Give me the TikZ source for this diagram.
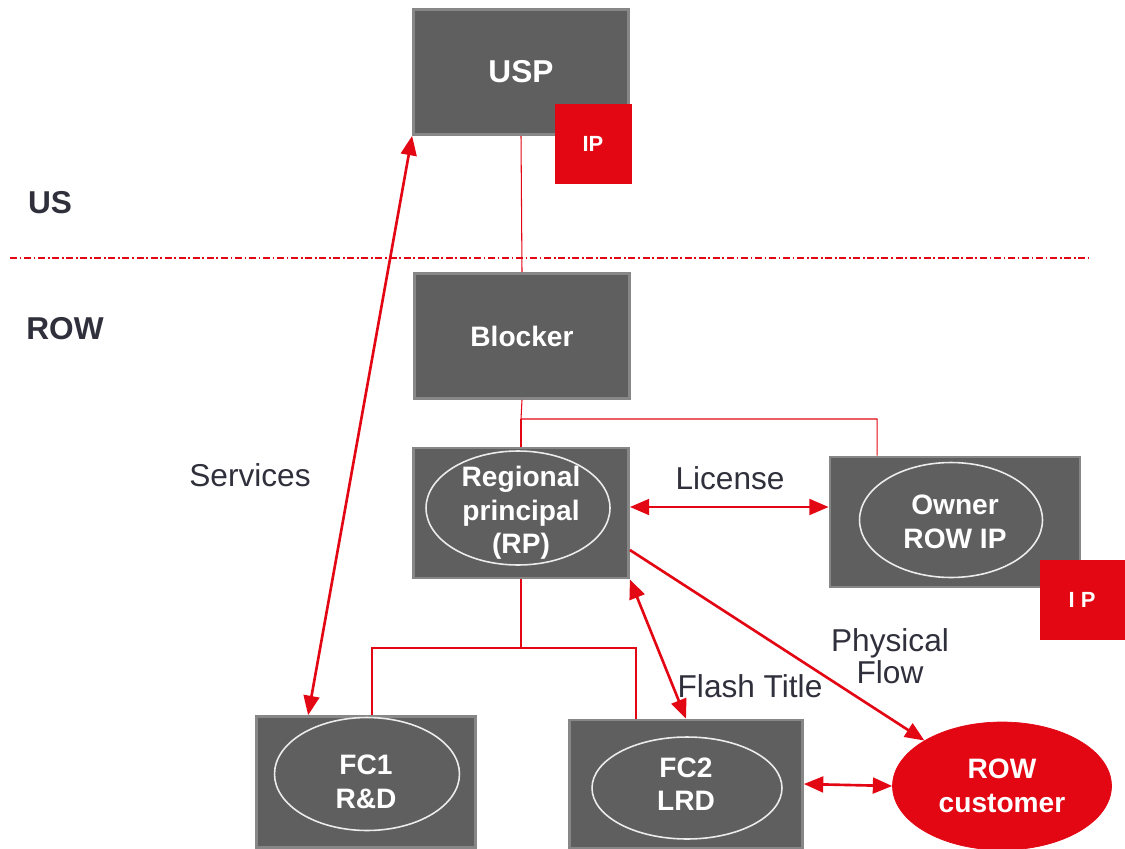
\documentclass[tikz,border=0pt]{standalone}
\usepackage{fontspec}
\setmainfont{Liberation Sans}
\usetikzlibrary{arrows.meta,shapes.geometric}
\definecolor{boxgrey}{HTML}{5F5F5F}
\definecolor{rimgrey}{HTML}{878787}
\definecolor{tpred}{HTML}{E30613}
\definecolor{inkgrey}{HTML}{30303C}
\begin{document}
\begin{tikzpicture}[x=0.02cm, y=-0.02cm, >={Triangle[length=11pt,width=9pt]},
		entity/.style={draw=rimgrey, line width=1.6pt, fill=boxgrey, text=white, align=center, inner sep=0pt,
			minimum width=4.3cm, minimum height=2.5cm, font=\bfseries\fontsize{16}{19}\selectfont},
		ring/.style={draw=white!88!boxgrey, line width=0.9pt, ellipse, inner sep=0pt},
		ipbox/.style={fill=tpred, text=white, inner sep=0pt, font=\bfseries\fontsize{12.5}{14}\selectfont},
		side/.style={text=inkgrey, font=\bfseries\fontsize{18}{21}\selectfont},
		flow/.style={text=inkgrey, align=center, font=\fontsize{18}{18.5}\selectfont},
		link/.style={draw=tpred, line width=0.6pt},
		trade/.style={draw=tpred, line width=1.5pt}]
	\useasboundingbox (0,0) rectangle (1125,848);

	% US / ROW split
	\node[side] (us) at (50,203) {US};
	\node[side] (row) at (65,329) {ROW};
	\draw[tpred, line width=0.6pt, dash pattern=on 4pt off 1.5pt on 1pt off 1.5pt] (10,258) -- (1088,258);

	% entities
	\node[entity, font=\bfseries\fontsize{18}{21}\selectfont] (usp) at (521,72) {USP};
	\node[ipbox, minimum width=1.54cm, minimum height=1.6cm] (ip) at (593,144) {IP};
	\node[entity] (blk) at (522,336) {Blocker};
	\node[entity, minimum height=2.6cm] (rp) at (521,513) {Regional\\principal\\(RP)};
	\node[ring, minimum width=3.68cm, minimum height=2.28cm] (rpring) at (518,508) {};
	\node[entity, minimum width=5cm, minimum height=2.6cm] (own) at (955,522) {Owner\\ROW IP};
	\node[ring, minimum width=3.66cm, minimum height=2.3cm] (ownring) at (951,520) {};
	\node[ipbox, minimum width=1.7cm, minimum height=1.6cm] (ipb) at (1082,600) {I\ P};
	\node[entity, minimum width=4.38cm, minimum height=2.62cm] (fc1) at (366,782) {FC1\\R\&D};
	\node[ring, minimum width=3.7cm, minimum height=2.26cm] (fc1ring) at (367,774) {};
	\node[entity, minimum width=4.66cm, minimum height=2.56cm] (fc2) at (686,784) {FC2\\LRD};
	\node[ring, minimum width=3.8cm, minimum height=2.04cm] (fc2ring) at (687,788) {};
	\node[ellipse, draw=tpred, fill=tpred, text=white, align=center, inner sep=0pt,
		minimum width=4.38cm, minimum height=2.56cm, font=\bfseries\fontsize{16}{19}\selectfont] (cust) at (1002,786) {ROW\\customer};

	% ownership tree
	\coordinate (upbus) at (521,419);
	\coordinate (lowbus) at (521,648);
	\draw[link] (usp.south) -- (blk.north);
	\draw[link] (blk.south) -- (upbus) -| ([xshift=-1.56cm]own.north);
	\draw[link] (upbus) -- (rp.north);
	\draw[link] (rp.south) -- (lowbus);
	\draw[link] ([xshift=0.12cm]fc1.north) |- (lowbus) -| ([xshift=-1cm]fc2.north);

	% flows
	\path
	(usp.south west) edge[trade, <->] ([xshift=1.06cm]fc1.north west)
	([yshift=0.12cm]rp.east) edge[trade, <->] ([yshift=0.12cm]rp.east -| own.west)
	(rp.south east) edge[trade, <->] (fc2.north)
	([yshift=-0.74cm]rp.east) edge[trade, ->] (cust.north west)
	(fc2.east) edge[trade, <->] (cust.west);

	\node[flow] (services) at (250,475) {Services};
	\node[flow] (license) at (730,478) {License};
	\node[flow] (physical) at (890,656) {Physical\\Flow};
	\node[flow] (flash) at (750,686) {Flash Title};
\end{tikzpicture}
\end{document}
